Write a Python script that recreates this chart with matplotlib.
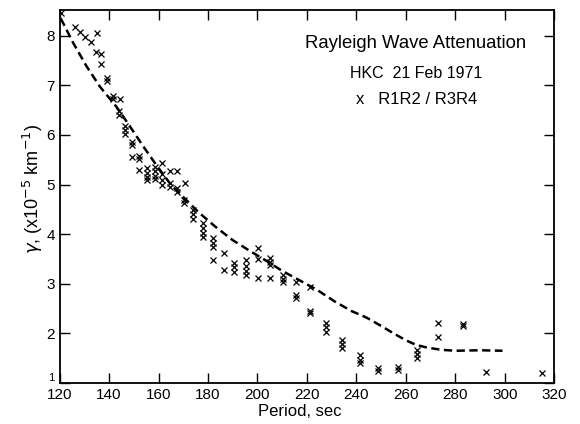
import matplotlib
matplotlib.use('Agg')
import matplotlib.pyplot as plt

plt.rcParams['font.family'] = ['Liberation Sans', 'DejaVu Sans']

# observed attenuation, R1R2 / R3R4 (period in sec, gamma in 1e-5 km^-1)
period = [120.5, 126.3, 128.3, 130.3, 132.6, 135.0, 134.6, 136.6, 136.6,
          139.2, 139.2, 141.6, 141.6, 144.4, 144.0, 144.0,
          146.5, 146.5, 146.5, 149.4, 149.4, 149.2, 152.3, 152.3, 152.1,
          155.2, 155.2, 155.2, 155.2, 158.5, 158.5, 158.5, 158.5,
          161.5, 161.3, 161.3, 161.3, 164.5, 167.3, 164.5, 164.5, 167.4, 167.4,
          170.6, 170.5, 170.5, 174.1, 174.1, 174.1,
          178.1, 178.1, 178.1, 178.1, 182.1, 182.1, 182.1, 182.1,
          186.5, 186.5, 190.6, 190.6, 190.6, 195.4, 195.4, 195.4, 195.4,
          200.3, 200.3, 200.3, 205.0, 205.0, 205.0, 205.0,
          210.3, 210.3, 210.3, 215.7, 215.7, 215.7, 221.3, 221.3, 221.3,
          227.7, 227.7, 227.7, 234.3, 234.3, 234.3, 241.4, 241.4, 241.4,
          248.6, 248.6, 256.6, 256.6, 264.3, 264.3, 264.3,
          272.8, 272.8, 283.2, 283.2, 292.3, 315.1]
gamma = [8.45, 8.18, 8.08, 7.98, 7.88, 8.06, 7.68, 7.63, 7.43,
         7.15, 7.08, 6.78, 6.72, 6.73, 6.48, 6.40,
         6.18, 6.10, 6.02, 5.86, 5.80, 5.56, 5.58, 5.52, 5.29,
         5.33, 5.24, 5.16, 5.10, 5.36, 5.27, 5.18, 5.12,
         5.43, 5.22, 5.10, 5.00, 5.28, 5.27, 5.03, 4.95, 4.93, 4.85,
         5.04, 4.69, 4.62, 4.48, 4.40, 4.30,
         4.22, 4.12, 4.02, 3.94, 3.93, 3.82, 3.74, 3.48,
         3.62, 3.28, 3.42, 3.33, 3.24, 3.48, 3.36, 3.26, 3.18,
         3.72, 3.51, 3.11, 3.52, 3.44, 3.38, 3.12,
         3.18, 3.10, 3.04, 3.04, 2.77, 2.71, 2.94, 2.46, 2.42,
         2.21, 2.12, 2.03, 1.87, 1.78, 1.71, 1.56, 1.47, 1.40,
         1.30, 1.24, 1.32, 1.26, 1.67, 1.58, 1.50,
         2.20, 1.92, 2.19, 2.14, 1.22, 1.21]

# dashed theoretical curve
curve_period = [120.5, 125.6, 131, 136.4, 143, 148.5, 154, 159.3, 165, 170,
                176, 183, 190, 197, 204, 210, 217, 224, 231, 238, 244, 250,
                255, 260, 264, 268, 274, 280, 290, 299]
curve_gamma = [8.35, 7.85, 7.38, 6.97, 6.57, 6.17, 5.76, 5.38, 5.0, 4.75,
               4.45, 4.15, 3.88, 3.66, 3.45, 3.26, 3.07, 2.88, 2.65, 2.45,
               2.32, 2.15, 2.0, 1.86, 1.77, 1.72, 1.67, 1.65, 1.66, 1.65]

fig = plt.figure(figsize=(5.8, 4.24), dpi=100)
ax = fig.add_axes([0.1026, 0.0967, 0.8534, 0.8797])

ax.plot(curve_period, curve_gamma, color='black', linestyle=(0, (3.3, 1.8)), linewidth=1.8)
ax.plot(period, gamma, 'x', color='black', markersize=5, markeredgewidth=0.9)

ax.set_xlim(120, 320)
ax.set_ylim(1, 8.52)
ax.set_xticks(range(120, 321, 20))
ax.set_yticks(range(1, 9))
ax.tick_params(direction='in', top=True, right=True, length=7, width=1, labelsize=11)
for s in ax.spines.values():
    s.set_linewidth(1.3)

# the "1" on the y axis is small and sits just above the corner
one = ax.get_yticklabels()[0]
one.set_fontsize(8)
one.set_verticalalignment('bottom')

ax.set_xlabel('Period, sec', fontsize=12)
ax.xaxis.set_label_coords(0.486, -0.055)
ax.set_ylabel(r'$\gamma$, (x10$^{-5}$ km$^{-1}$)', fontsize=13)
ax.yaxis.set_label_coords(-0.03, 0.52)

ax.text(0.72, 0.91, 'Rayleigh Wave Attenuation', transform=ax.transAxes, ha='center', va='center', fontsize=13.3)
ax.text(0.72, 0.83, 'HKC  21 Feb 1971', transform=ax.transAxes, ha='center', va='center', fontsize=11.5)
ax.text(0.60, 0.76, 'x   R1R2 / R3R4', transform=ax.transAxes, ha='left', va='center', fontsize=12)

plt.savefig('out.png', dpi=100)
